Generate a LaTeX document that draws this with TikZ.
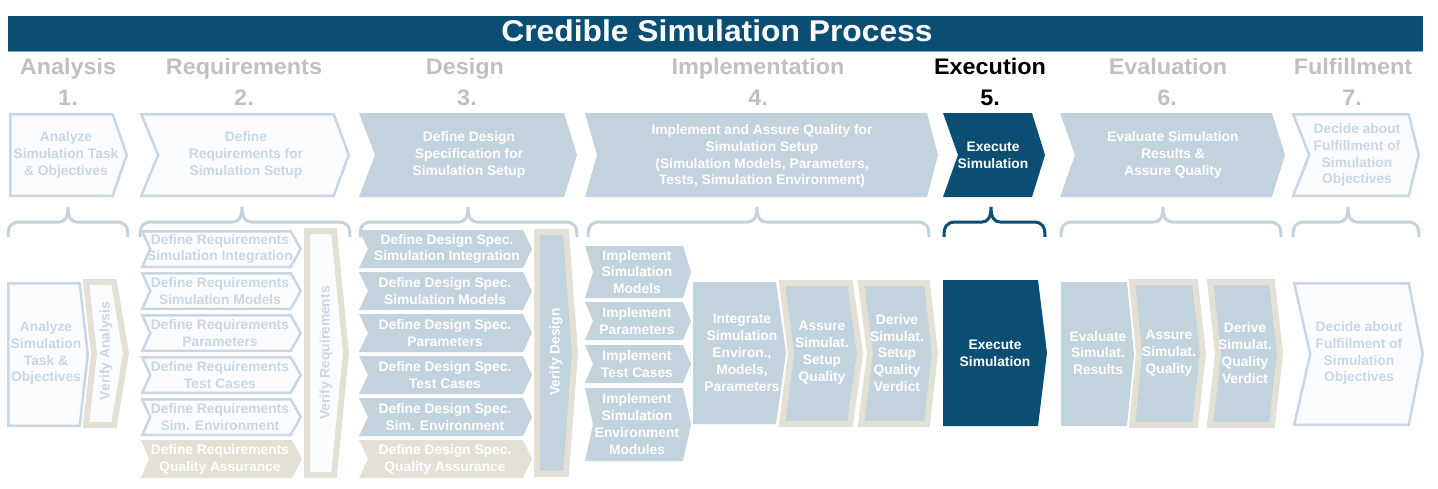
\documentclass[tikz,border=0pt]{standalone}
\usepackage{fontspec}
\setmainfont{Liberation Sans}
\definecolor{dblue}{RGB}{11,78,115}
\definecolor{lblue}{RGB}{195,211,222}
\definecolor{oblue}{RGB}{200,215,227}
\definecolor{beige}{RGB}{227,225,213}
\definecolor{hgray}{RGB}{192,192,192}
\definecolor{offw}{RGB}{251,252,253}
\definecolor{edgeblue}{RGB}{140,175,200}
% #1 style, #2 inset, #3 x1, #4 y1, #5 x2, #6 y2, #7 notch, #8 tip
\newcommand\shp[8]{\path[#1] ({#3+#2},{#4+#2}) -- ({#5-#8-#2},{#4+#2}) -- ({#5-#2},{(#4+#6)/2}) -- ({#5-#8-#2},{#6-#2}) -- ({#3+#2},{#6-#2}) -- ({#3+#7+#2},{(#4+#6)/2}) -- cycle;}
\newcommand\mybrc[4]{\draw[#1] (#2,237) .. controls (#2,227) and ({#2+2},222) .. ({#2+12},222) -- ({#3-9},222) .. controls ({#3-3},222) and (#3,217) .. (#3,207) .. controls (#3,217) and ({#3+3},222) .. ({#3+9},222) -- ({#4-12},222) .. controls ({#4-2},222) and (#4,227) .. (#4,237);}
\begin{document}
\begin{tikzpicture}[x=1pt,y=-1pt,
 outl/.style={draw=oblue, line width=2.5pt, fill=offw},
 filb/.style={fill=lblue},
 bgw/.style={draw=beige, line width=6pt, fill=offw},
 bgb/.style={draw=beige, line width=6pt, fill=lblue},
 bgf/.style={fill=beige},
 drk/.style={fill=dblue},
 txt/.style={font=\bfseries\fontsize{13.8}{16.9}\selectfont, align=center, inner sep=0pt},
 tl/.style={txt, text=oblue},
 tw/.style={txt, text=white},
 hd/.style={font=\bfseries\fontsize{22.5}{27}\selectfont, text=hgray, anchor=base, inner sep=0pt, xscale=1.04},
 brcl/.style={draw=lblue, line width=3pt},
 brcd/.style={draw=dblue, line width=3pt}]
\useasboundingbox (0,0) rectangle (1438,488);
\fill[white] (0,0) rectangle (1438,488);
% title
\fill[dblue] (8,16) rectangle (1423,51);
\draw[edgeblue, line width=1.2pt] (8,51.4) -- (1423,51.4);
\node[font=\bfseries\fontsize{30}{34}\selectfont, text=white, inner sep=0pt, anchor=base, xscale=1.06] (title) at (717,41) {Credible Simulation Process};
% headers
\node[hd] (h1) at (68,74) {Analysis};
\node[hd] (h2) at (244,74) {Requirements};
\node[hd] (h3) at (465,74) {Design};
\node[hd] (h4) at (758,74) {Implementation};
\node[hd, text=black] (h5) at (990,74) {Execution};
\node[hd] (h6) at (1168,74) {Evaluation};
\node[hd] (h7) at (1353,74) {Fulfillment};
\node[hd] (n1) at (68,105) {1.};
\node[hd] (n2) at (244,105) {2.};
\node[hd] (n3) at (467,105) {3.};
\node[hd] (n4) at (758,105) {4.};
\node[hd, text=black] (n5) at (990,105) {5.};
\node[hd] (n6) at (1167,105) {6.};
\node[hd] (n7) at (1352,105) {7.};
% top chevrons
\shp{outl}{1.25}{9}{113}{128}{197}{0}{14}
\shp{outl}{1.25}{140}{113}{350}{197}{17}{15}
\shp{filb}{0}{359}{113}{577}{197}{16}{13}
\shp{filb}{0}{585}{113}{938}{197}{12}{11}
\shp{drk}{0}{943}{113}{1045}{197}{15}{13}
\shp{filb}{0}{1060}{113}{1285}{197}{15}{13}
\shp{outl}{1.25}{1292}{113}{1420}{197}{16}{10}
\node[tl] (t1) at (66,155) {Analyze\\Simulation Task\\\& Objectives};
\node[tl] (t2) at (246,155) {Define\\Requirements for\\Simulation Setup};
\node[tw] (t3) at (469,155) {Define Design\\Specification for\\Simulation Setup};
\node[tw] (t4) at (762,156) {Implement and Assure Quality for\\Simulation Setup\\(Simulation Models, Parameters,\\Tests, Simulation Environment)};
\node[tw] (t5) at (993,155) {Execute\\Simulation};
\node[tw] (t6) at (1173,155) {Evaluate Simulation\\Results \&\\Assure Quality};
\node[tl] (t7) at (1357,155) {Decide about\\Fulfillment of\\Simulation\\Objectives};
% braces
\mybrc{brcl}{8}{68}{128}
\mybrc{brcl}{140}{242}{350}
\mybrc{brcl}{360}{468}{577}
\mybrc{brcl}{588}{757}{929}
\mybrc{brcd}{944}{991}{1045}
\mybrc{brcl}{1061}{1163}{1281}
\mybrc{brcl}{1293}{1348}{1419}
% analysis column
\shp{outl}{1.25}{7}{282}{89}{427}{0}{8}
\shp{bgw}{3}{83}{279}{129}{428}{8}{12}
\node[tl] (ba) at (46,353) {Analyze\\Simulation\\Task \&\\Objectives};
\node[tl, rotate=90] (bva) at (106,351) {Verify Analysis};
% requirements column
\shp{outl}{1.25}{141}{230}{302}{268}{8}{10}
\shp{outl}{1.25}{141}{272}{302}{310}{8}{10}
\shp{outl}{1.25}{141}{314}{302}{352}{8}{10}
\shp{outl}{1.25}{141}{356}{302}{394}{8}{10}
\shp{outl}{1.25}{141}{398}{302}{436}{8}{10}
\shp{bgf}{0}{141}{440}{302}{478}{8}{10}
\node[tl] (r1) at (220,249) {Define Requirements\\Simulation Integration};
\node[tl] (r2) at (220,291) {Define Requirements\\Simulation Models};
\node[tl] (r3) at (220,333) {Define Requirements\\Parameters};
\node[tl] (r4) at (220,375) {Define Requirements\\Test Cases};
\node[tl] (r5) at (220,417) {Define Requirements\\Sim. Environment};
\node[tw] (r6) at (220,459) {Define Requirements\\Quality Assurance};
\shp{bgw}{3}{304}{228}{349}{478}{0}{12}
\node[tl, rotate=90] (bvr) at (326,353) {Verify Requirements};
% design column
\shp{filb}{0}{359}{230}{532}{268}{9}{9}
\shp{filb}{0}{359}{272}{532}{310}{9}{9}
\shp{filb}{0}{359}{314}{532}{352}{9}{9}
\shp{filb}{0}{359}{356}{532}{394}{9}{9}
\shp{filb}{0}{359}{398}{532}{436}{9}{9}
\shp{bgf}{0}{359}{440}{532}{478}{9}{9}
\node[tw] (d1) at (447,249) {Define Design Spec.\\Simulation Integration};
\node[tw] (d2) at (445,291) {Define Design Spec.\\Simulation Models};
\node[tw] (d3) at (445,333) {Define Design Spec.\\Parameters};
\node[tw] (d4) at (445,375) {Define Design Spec.\\Test Cases};
\node[tw] (d5) at (445,417) {Define Design Spec.\\Sim. Environment};
\node[tw] (d6) at (445,459) {Define Design Spec.\\Quality Assurance};
\shp{bgb}{3}{534}{229}{578}{477}{0}{9}
\node[tw, rotate=90] (bvd) at (556,352) {Verify Design};
% implementation column
\shp{filb}{0}{585}{246}{691}{298}{8}{8}
\shp{filb}{0}{585}{302}{691}{340}{8}{8}
\shp{filb}{0}{585}{345}{691}{383}{8}{8}
\shp{filb}{0}{585}{388}{691}{461}{8}{8}
\node[tw] (i1) at (637,272) {Implement\\Simulation\\Models};
\node[tw] (i2) at (637,321) {Implement\\Parameters};
\node[tw] (i3) at (637,364) {Implement\\Test Cases};
\node[tw] (i4) at (637,424) {Implement\\Simulation\\Environment\\Modules};
\shp{filb}{0}{693}{282}{786}{424}{0}{10}
\node[tw] (ii) at (742,353) {Integrate\\Simulation\\Environ.,\\Models,\\Parameters};
\shp{bgb}{3}{779}{280}{863}{427}{9}{10}
\node[tw] (ia) at (822,353) {Assure\\Simulat.\\Setup\\Quality};
\shp{bgb}{3}{858}{280}{938}{427}{9}{8}
\node[tw] (id) at (897,353) {Derive\\Simulat.\\Setup\\Quality\\Verdict};
% execution
\shp{drk}{0}{943}{280}{1047}{426}{0}{9}
\node[tw] (ex) at (995,353) {Execute\\Simulation};
% evaluation
\shp{filb}{0}{1061}{282}{1134}{426}{0}{7}
\node[tw] (ev) at (1098,353) {Evaluate\\Simulat.\\Results};
\shp{bgb}{3}{1129}{279}{1206}{428}{7}{8}
\node[tw] (ea) at (1169,353) {Assure\\Simulat.\\Quality};
\shp{bgb}{3}{1207}{279}{1283}{428}{8}{8}
\node[tw] (ed) at (1245,353) {Derive\\Simulat.\\Quality\\Verdict};
% fulfillment
\shp{outl}{1.25}{1293}{282}{1424}{426}{16}{14}
\node[tl] (fd) at (1359,353) {Decide about\\Fulfillment of\\Simulation\\Objectives};
\end{tikzpicture}
\end{document}
